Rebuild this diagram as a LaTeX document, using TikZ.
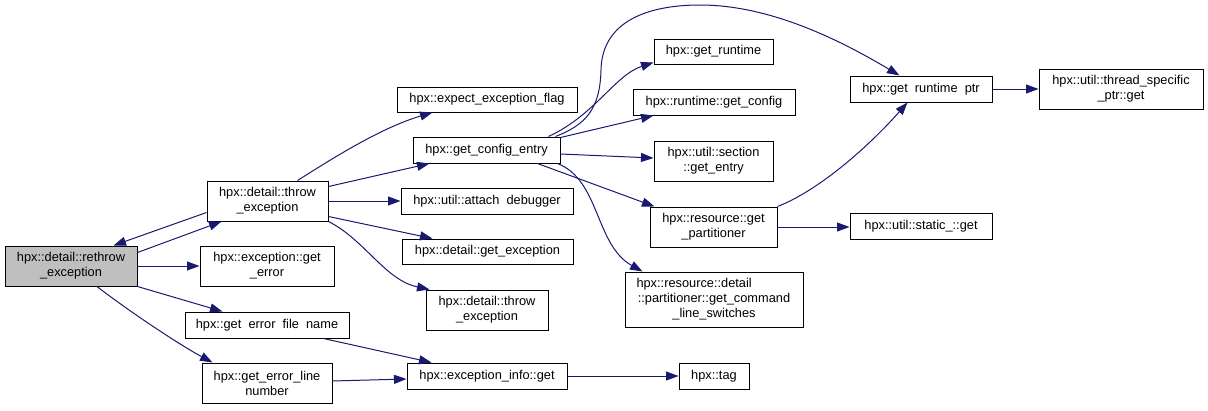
\documentclass[tikz,border=0pt]{standalone}
\usepackage{fontspec}
\setmainfont{Liberation Sans}
\usetikzlibrary{arrows.meta,calc}
\definecolor{edgecol}{HTML}{191970}
\definecolor{hl}{HTML}{BFBFBF}
\begin{document}
\begin{tikzpicture}[x=1pt,y=-1pt,
  box/.style={draw=black,line width=1pt,fill=white,inner sep=0pt,align=center,font=\fontsize{12.8}{15}\selectfont},
  edge/.style={draw=edgecol,line width=1pt,-{Triangle[length=12.5pt,width=9pt]}}]
\useasboundingbox (0,0) rectangle (1208,410);
% nodes
\node[box,fill=hl,minimum width=132pt,minimum height=40pt] (rethrow) at (71,266) {hpx::detail::rethrow\\\_exception};
\node[box,minimum width=121pt,minimum height=40pt] (throw) at (267.5,201) {hpx::detail::throw\\\_exception};
\node[box,minimum width=134pt,minimum height=40pt] (geterror) at (267,266) {hpx::exception::get\\\_error};
\node[box,minimum width=164pt,minimum height=26pt] (filename) at (267,325) {hpx::get\phantom{\_}error\phantom{\_}file\phantom{\_}name};
\node[box,minimum width=130pt,minimum height=40pt] (linenum) at (267,383) {hpx::get\_error\_line\\number};
\node[box,minimum width=180pt,minimum height=25pt] (expect) at (487,99.5) {hpx::expect\_exception\_flag};
\node[box,minimum width=147pt,minimum height=26pt] (gce) at (486.5,150) {hpx::get\_config\_entry};
\node[box,minimum width=172pt,minimum height=26pt] (attach) at (487,201) {hpx::util::attach\phantom{\_}debugger};
\node[box,minimum width=171pt,minimum height=25pt] (getexc) at (487.5,251.5) {hpx::detail::get\_exception};
\node[box,minimum width=122pt,minimum height=40pt] (throwb) at (487,310) {hpx::detail::throw\\\_exception};
\node[box,minimum width=160pt,minimum height=26pt] (einfo) at (487,376) {hpx::exception\_info::get};
\node[box,minimum width=119pt,minimum height=25pt] (getruntime) at (713.5,51.5) {hpx::get\_runtime};
\node[box,minimum width=162pt,minimum height=26pt] (rgetconfig) at (714,102) {hpx::runtime::get\_config};
\node[box,minimum width=119pt,minimum height=40pt] (section) at (713.5,161) {hpx::util::section\\::get\_entry};
\node[box,minimum width=127pt,minimum height=40pt] (partitioner) at (713.5,227) {hpx::resource::get\\\_partitioner};
\node[box,minimum width=178pt,minimum height=55pt] (cmdline) at (714,299.5) {\makebox[155pt][l]{hpx::resource::detail}\\::partitioner::get\_command\\\_line\_switches};
\node[box,minimum width=70pt,minimum height=26pt] (tag) at (714,376) {hpx::tag};
\node[box,minimum width=142pt,minimum height=26pt] (grptr) at (921,89) {hpx::get\phantom{\_}runtime\phantom{\_}ptr};
\node[box,minimum width=142pt,minimum height=26pt] (static) at (921,226) {hpx::util::static\_::get};
\node[box,minimum width=164pt,minimum height=40pt] (tsp) at (1121,89) {hpx::util::thread\_specific\\\_ptr::get};
% edges
\draw[edge] ($(rethrow.north east)+(0,7)$) -- ($(throw.south west)+(15,0)$);
\draw[edge] ($(throw.south west)+(0,-9)$) -- ($(rethrow.north east)+(-24,0)$);
\draw[edge] (rethrow.east) -- (geterror.west);
\draw[edge] (rethrow.south east) -- ($(filename.north west)+(38,0)$);
\draw[edge] ($(rethrow.south)+(26,0)$) .. controls (130,312) and (180,345) .. ($(linenum.north west)+(11,0)$);
\draw[edge] ($(throw.north)+(30,0)$) .. controls (330,160) and (380,128) .. ($(expect.south west)+(36,0)$);
\draw[edge] ($(throw.north east)+(0,6)$) -- ($(gce.south west)+(17,0)$);
\draw[edge] (throw.east) -- (attach.west);
\draw[edge] ($(throw.south east)+(0,-5)$) -- ($(getexc.north west)+(31,0)$);
\draw[edge] (throw.south east) .. controls (365,240) and (385,280) .. ($(throwb.north west)+(4,0)$);
\draw[edge] ($(gce.north east)+(-12,0)$) .. controls (595,115) and (615,75) .. ($(getruntime.south west)+(0,-2)$);
\draw[edge] ($(gce.north east)+(-5,0)$) .. controls (585,125) and (600,110) .. (601,70) .. controls (602,20) and (650,5) .. (700,5) .. controls (770,5) and (840,40) .. ($(grptr.north west)+(50,0)$);
\draw[edge] ($(gce.north east)+(0,1)$) -- ($(rgetconfig.south west)+(21,0)$);
\draw[edge] ($(gce.east)+(0,4)$) -- ($(section.west)+(0,-3)$);
\draw[edge] ($(gce.south east)+(-23,0)$) -- ($(partitioner.north west)+(5,0)$);
\draw[edge] ($(gce.south east)+(-3,0)$) .. controls (600,180) and (595,245) .. ($(cmdline.north west)+(18,0)$);
\draw[edge] (partitioner.north east) .. controls (820,190) and (870,145) .. ($(grptr.south west)+(58,0)$);
\draw[edge] (partitioner.east) -- (partitioner.east -| static.west);
\draw[edge] (grptr.east) -- (tsp.west);
\draw[edge] ($(filename.south east)+(-26,0)$) -- ($(einfo.north west)+(25,0)$);
\draw[edge] ($(linenum.east)+(0,-2)$) -- ($(einfo.west)+(0,3)$);
\draw[edge] (einfo.east) -- (tag.west);
\end{tikzpicture}
\end{document}
